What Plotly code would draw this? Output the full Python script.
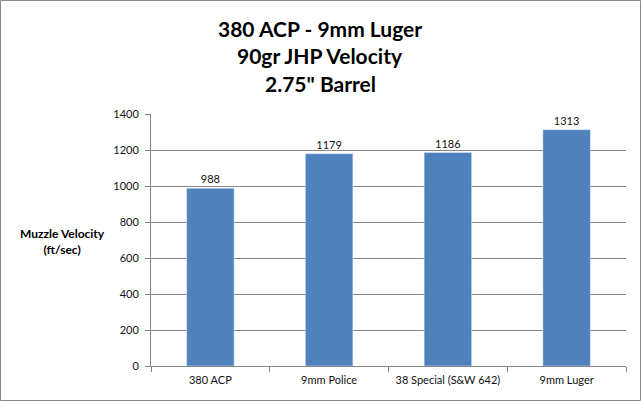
import plotly.graph_objects as go

# data
loads = ['380 ACP', '9mm Police', '38 Special (S&W 642)', '9mm Luger']
velocity = [988, 1179, 1186, 1313]
y_ticks = [0, 200, 400, 600, 800, 1000, 1200, 1400]
title_lines = ['380 ACP - 9mm Luger', '90gr JHP Velocity', '2.75" Barrel']

W, H = 641, 401
L, R, T, B = 151, 15, 114, 35
pw, ph = W - L - R, H - T - B
FONT = 'Lato, Open Sans, sans-serif'


def px_x(x):
    return (x - L) / pw


def px_y(y):
    return (H - B - y) / ph


fig = go.Figure(go.Bar(
    x=loads,
    y=velocity,
    marker_color='#4F81BD',
    text=velocity,
    textposition='outside',
    textfont=dict(size=11, color='#111'),
    cliponaxis=False,
))

# title as three separate lines (multi-line titles drift in plotly)
notes = []
for i, line in enumerate(title_lines):
    notes.append(dict(
        text='<b>' + line + '</b>', xref='paper', yref='paper',
        x=px_x(320), y=px_y(28 + 27.5 * i),
        xanchor='center', yanchor='middle', showarrow=False,
        font=dict(family=FONT, size=21, color='black'),
    ))
notes.append(dict(
    text='<b>Muzzle Velocity</b><br><b>(ft/sec)</b>',
    xref='paper', yref='paper',
    x=px_x(62), y=px_y(241),
    xanchor='center', yanchor='middle', showarrow=False,
    font=dict(family=FONT, size=12, color='black'),
))

fig.update_layout(
    width=W, height=H,
    margin=dict(l=L, r=R, t=T, b=B),
    paper_bgcolor='white', plot_bgcolor='white',
    font=dict(family=FONT, size=11, color='#111'),
    bargap=0.6,
    showlegend=False,
    annotations=notes,
    shapes=[dict(
        type='rect', xref='paper', yref='paper', layer='above',
        x0=px_x(0.5), x1=px_x(W - 0.5),
        y0=px_y(H - 0.5), y1=px_y(0.5),
        line=dict(color='#888', width=1),
    )],
)

fig.update_xaxes(
    type='category', tickson='boundaries',
    ticks='outside', ticklen=5, tickcolor='#868686',
    ticklabelstandoff=4,
    showline=True, linecolor='#868686', linewidth=1,
    showgrid=False,
)
fig.update_yaxes(
    range=[0, 1400], tickvals=y_ticks,
    ticks='outside', ticklen=5, tickcolor='#868686',
    ticklabelstandoff=4,
    showline=True, linecolor='#868686', linewidth=1,
    showgrid=True, gridcolor='#868686', gridwidth=1,
    zeroline=False,
)

fig.write_html('out.html', config={'displayModeBar': False},
               post_script="document.body.style.margin='0';")
